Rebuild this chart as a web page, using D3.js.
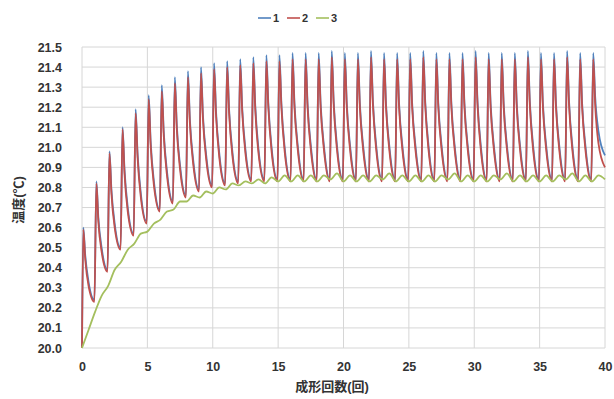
<!DOCTYPE html>
<html>
<head>
<meta charset="utf-8">
<script src="https://cdn.jsdelivr.net/npm/d3@7"></script>
<style>
  body { margin: 0; background: #fff; }
  svg text { font-family: "Liberation Sans", Arial, "Noto Sans CJK JP", sans-serif; fill: #333; }
</style>
</head>
<body>
<svg id="chart" width="614" height="399"></svg>
<script>
// series names + colours
const seriesNames = ["1", "2", "3"];
const seriesColors = ["#4f81bd", "#c0504d", "#a4bf5e"];

// molding cycles 0..39
const cycles = d3.range(40);

// series 1 : peak, two decay samples, trough per cycle
const s1Peak = [20.60,20.83,20.98,21.10,21.19,21.26,21.31,21.35,21.38,21.40,
                21.42,21.43,21.44,21.45,21.46,21.46,21.47,21.47,21.47,21.48,
                21.47,21.47,21.48,21.47,21.47,21.47,21.48,21.47,21.47,21.47,
                21.48,21.47,21.47,21.47,21.48,21.47,21.47,21.48,21.47,21.47];
const s1Mid1 = [20.46,20.65,20.79,20.89,20.97,21.03,21.08,21.11,21.14,21.16,
                21.18,21.19,21.20,21.21,21.22,21.22,21.22,21.22,21.22,21.23,
                21.22,21.22,21.23,21.22,21.22,21.22,21.23,21.22,21.22,21.22,
                21.23,21.22,21.22,21.22,21.23,21.22,21.22,21.23,21.22,21.25];
const s1Mid2 = [20.33,20.50,20.62,20.70,20.77,20.83,20.88,20.91,20.94,20.96,
                20.97,20.98,20.99,20.99,21.00,21.00,21.01,21.01,21.01,21.01,
                21.01,21.01,21.01,21.01,21.01,21.01,21.01,21.01,21.01,21.01,
                21.01,21.01,21.01,21.01,21.01,21.01,21.01,21.01,21.01,21.08];
const s1Low  = [20.24,20.39,20.50,20.57,20.63,20.69,20.73,20.76,20.79,20.81,
                20.82,20.83,20.84,20.84,20.84,20.84,20.84,20.84,20.84,20.84,
                20.84,20.84,20.84,20.84,20.84,20.84,20.84,20.84,20.84,20.84,
                20.84,20.84,20.84,20.84,20.84,20.84,20.84,20.84,20.84,20.96];

// series 2
const s2Peak = [20.59,20.82,20.97,21.09,21.17,21.24,21.28,21.32,21.35,21.37,
                21.39,21.40,21.41,21.42,21.43,21.43,21.44,21.44,21.44,21.45,
                21.44,21.44,21.45,21.44,21.44,21.44,21.45,21.44,21.44,21.44,
                21.45,21.44,21.44,21.44,21.45,21.44,21.44,21.45,21.44,21.44];
const s2Mid1 = [20.44,20.63,20.77,20.87,20.95,21.01,21.06,21.09,21.12,21.14,
                21.16,21.17,21.18,21.19,21.20,21.20,21.20,21.20,21.20,21.21,
                21.20,21.20,21.21,21.20,21.20,21.20,21.21,21.20,21.20,21.20,
                21.21,21.20,21.20,21.20,21.21,21.20,21.20,21.21,21.20,21.21];
const s2Mid2 = [20.31,20.48,20.60,20.68,20.75,20.81,20.86,20.89,20.92,20.94,
                20.95,20.96,20.97,20.97,20.98,20.98,20.99,20.99,20.99,20.99,
                20.99,20.99,20.99,20.99,20.99,20.99,20.99,20.99,20.99,20.99,
                20.99,20.99,20.99,20.99,20.99,20.99,20.99,20.99,20.99,21.02];
const s2Low  = [20.23,20.38,20.49,20.56,20.62,20.68,20.72,20.75,20.78,20.80,
                20.81,20.82,20.83,20.83,20.83,20.83,20.83,20.83,20.83,20.83,
                20.83,20.83,20.83,20.83,20.83,20.83,20.83,20.83,20.83,20.83,
                20.83,20.83,20.83,20.83,20.83,20.83,20.83,20.83,20.83,20.90];

// series 3 : low / high sample each cycle
const s3Low  = [20.00,20.18,20.31,20.43,20.52,20.58,20.64,20.69,20.73,20.75,
                20.77,20.79,20.81,20.82,20.82,20.83,20.83,20.83,20.83,20.84,
                20.83,20.83,20.83,20.84,20.83,20.83,20.83,20.83,20.84,20.83,
                20.83,20.83,20.84,20.83,20.83,20.83,20.83,20.84,20.83,20.83];
const s3High = [20.09,20.26,20.39,20.49,20.57,20.62,20.68,20.73,20.76,20.78,
                20.80,20.82,20.83,20.84,20.85,20.86,20.86,20.86,20.86,20.87,
                20.86,20.86,20.86,20.87,20.86,20.86,20.86,20.86,20.87,20.86,
                20.86,20.86,20.87,20.86,20.86,20.86,20.86,20.87,20.86,20.86];
const s3End = 20.84;

const startTemp = 20.0;

// ticks
const xTicks = [0, 5, 10, 15, 20, 25, 30, 35, 40];
const yTicks = d3.range(0, 16).map(i => +(20 + i * 0.1).toFixed(1));

// sample phase inside a cycle
const phase = [0.1, 0.25, 0.5, 0.95];

function sawSeries(peak, m1, m2, low) {
    const pts = [[0, startTemp]];
    cycles.forEach(k => {
        pts.push([k + phase[0], peak[k]]);
        pts.push([k + phase[1], m1[k]]);
        pts.push([k + phase[2], m2[k]]);
        pts.push([k === 39 ? 40 : k + phase[3], low[k]]);
    });
    return pts;
}

const s3Pts = [];
cycles.forEach(k => {
    s3Pts.push([k, s3Low[k]]);
    s3Pts.push([k + 0.5, s3High[k]]);
});
s3Pts.push([40, s3End]);

const allSeries = [
    sawSeries(s1Peak, s1Mid1, s1Mid2, s1Low),
    sawSeries(s2Peak, s2Mid1, s2Mid2, s2Low),
    s3Pts
];

// layout
const svg = d3.select("#chart");
const width = +svg.attr("width");
const height = +svg.attr("height");
const margin = { top: 47, right: 9, bottom: 51, left: 82 };
const innerW = width - margin.left - margin.right;
const innerH = height - margin.top - margin.bottom;

const g = svg.append("g").attr("transform", `translate(${margin.left},${margin.top})`);

const x = d3.scaleLinear().domain([0, 40]).range([0, innerW]);
const y = d3.scaleLinear().domain([20, 21.5]).range([innerH, 0]);

// grid
g.append("g").selectAll("line.h")
    .data(yTicks)
    .join("line")
    .attr("x1", 0).attr("x2", innerW)
    .attr("y1", d => y(d)).attr("y2", d => y(d))
    .attr("stroke", "#d6d6d6").attr("stroke-width", 1);

g.append("g").selectAll("line.v")
    .data(xTicks)
    .join("line")
    .attr("x1", d => x(d)).attr("x2", d => x(d))
    .attr("y1", 0).attr("y2", innerH)
    .attr("stroke", "#d6d6d6").attr("stroke-width", 1);

// axes (labels only)
const yAxisG = g.append("g")
    .call(d3.axisLeft(y).tickValues(yTicks).tickFormat(d3.format(".1f")).tickSize(0).tickPadding(20));
yAxisG.select(".domain").remove();
yAxisG.selectAll("text")
    .style("font-size", "12.5px").style("font-weight", "bold").attr("fill", "#3a3a3a");

const xAxisG = g.append("g")
    .attr("transform", `translate(0,${innerH})`)
    .call(d3.axisBottom(x).tickValues(xTicks).tickSize(0).tickPadding(14));
xAxisG.select(".domain").remove();
xAxisG.selectAll("text")
    .style("font-size", "12.5px").style("font-weight", "bold").attr("fill", "#3a3a3a");

// lines
const line = d3.line()
    .x(d => x(d[0]))
    .y(d => y(d[1]))
    .curve(d3.curveMonotoneX);

g.selectAll("path.series")
    .data(allSeries)
    .join("path")
    .attr("class", "series")
    .attr("fill", "none")
    .attr("stroke", (d, i) => seriesColors[i])
    .attr("stroke-width", 1.8)
    .attr("stroke-linejoin", "round")
    .attr("d", line);

// axis titles
svg.append("text")
    .attr("x", 332)
    .attr("y", 391)
    .attr("text-anchor", "middle")
    .style("font-size", "13px")
    .style("font-weight", "bold")
    .text("成形回数(回)");

svg.append("text")
    .attr("transform", "translate(23,200) rotate(-90)")
    .attr("text-anchor", "middle")
    .style("font-size", "13px")
    .style("font-weight", "bold")
    .text("温度(℃)");

// legend
const legend = svg.append("g").attr("transform", "translate(258,18)");
const legendItems = legend.selectAll("g")
    .data(seriesNames)
    .join("g")
    .attr("transform", (d, i) => `translate(${i * 29},0)`);
legendItems.append("line")
    .attr("x1", 0).attr("x2", 13)
    .attr("y1", 0).attr("y2", 0)
    .attr("stroke", (d, i) => seriesColors[i])
    .attr("stroke-width", 1.6);
legendItems.append("text")
    .attr("x", 15)
    .attr("y", 4)
    .style("font-size", "11px")
    .style("font-weight", "bold")
    .text(d => d);
</script>
</body>
</html>
